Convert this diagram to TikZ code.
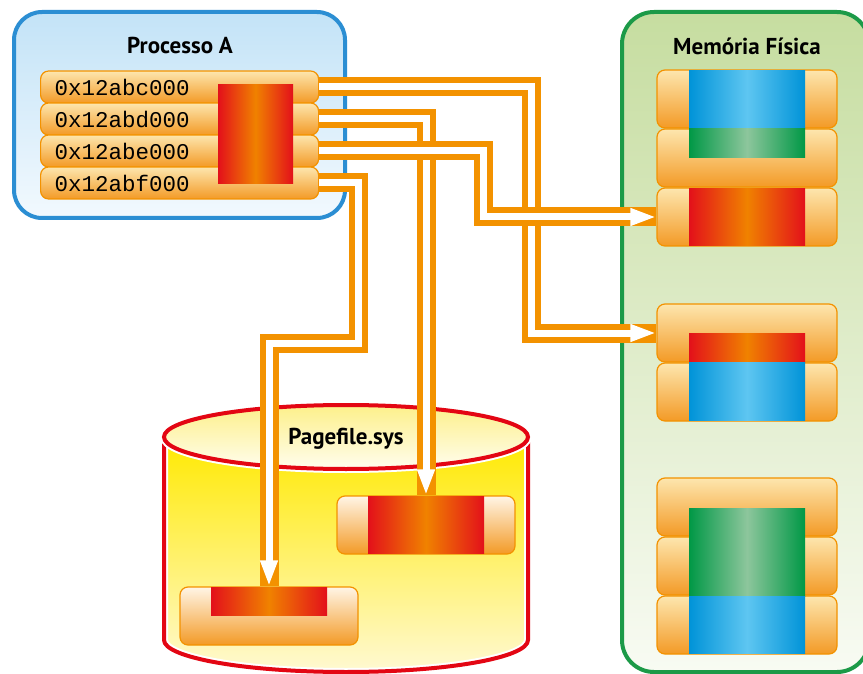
\documentclass[tikz,border=0pt]{standalone}
\usepackage{fontspec}
\setmainfont{PT Sans}
\setmonofont{Liberation Mono}
\usetikzlibrary{arrows.meta}

\definecolor{linkorange}{HTML}{F39200}
\definecolor{barlight}{HTML}{FDE6AE}
\definecolor{bardark}{HTML}{F39A26}
\definecolor{diskbarlight}{HTML}{FFF5E6}
\definecolor{pagered}{HTML}{E3101A}
\definecolor{pagemid}{HTML}{F08200}
\definecolor{bluedeep}{HTML}{0093D8}
\definecolor{bluelight}{HTML}{5EC6F1}
\definecolor{greendeep}{HTML}{009846}
\definecolor{greenlight}{HTML}{8DC69C}
\definecolor{procborder}{HTML}{2B8ED3}
\definecolor{proctop}{HTML}{C3E3F7}
\definecolor{procbot}{HTML}{F2F9FE}
\definecolor{memborder}{HTML}{1C9A48}
\definecolor{memtop}{HTML}{C6DDA0}
\definecolor{membot}{HTML}{F8FBF3}
\definecolor{diskred}{HTML}{E30613}
\definecolor{diskyellow}{HTML}{FFE900}
\definecolor{diskpale}{HTML}{FFF9D2}
\definecolor{lidtop}{HTML}{FDF08A}
\definecolor{lidbot}{HTML}{FFFDEE}

\tikzset{
  title/.style={font=\fontsize{23}{25}\selectfont\bfseries, text=black},
  pagebar/.style={draw=linkorange, line width=1.2pt, rounded corners=8pt,
    top color=barlight, bottom color=bardark, minimum width=180pt,
    minimum height=58pt, inner sep=0pt},
  diskbar/.style={pagebar, top color=diskbarlight, minimum width=178pt},
  addrrow/.style={draw=linkorange, line width=1.2pt, rounded corners=8pt,
    top color=barlight, bottom color=bardark, minimum height=32pt,
    text width=250pt, inner xsep=14pt, inner ysep=0pt, align=left,
    font=\ttfamily\fontsize{22.5}{24}\selectfont},
  redpage/.style={left color=pagered, right color=pagered, middle color=pagemid},
  bluepage/.style={left color=bluedeep, right color=bluedeep, middle color=bluelight},
  greenpage/.style={left color=greendeep, right color=greendeep, middle color=greenlight},
  band/.style={draw=linkorange, line width=19pt, line join=miter},
  core/.style={draw=white, line width=7pt, line join=miter},
  coretip/.style={core, -{Triangle[length=26pt,width=16pt]}},
}

\begin{document}
\begin{tikzpicture}[x=1pt, y=-1pt]
  \useasboundingbox (0,0) rectangle (863,674);
  \clip (0,0) rectangle (863,674);
  \fill[white] (0,0) rectangle (863,674);

  % --- process address space ---
  \draw[procborder, line width=4pt, rounded corners=28pt, top color=proctop, bottom color=procbot]
    (14,12) rectangle (345,218);
  \node[title] (proctitle) at (180,45) {Processo A};
  \node[addrrow, anchor=west] (r1) at (40,87)  {0x12abc000};
  \node[addrrow, anchor=west] (r2) at (40,119) {0x12abd000};
  \node[addrrow, anchor=west] (r3) at (40,151) {0x12abe000};
  \node[addrrow, anchor=west] (r4) at (40,183) {0x12abf000};
  \fill[redpage] (218,85) rectangle (293,184);

  % --- physical memory ---
  \draw[memborder, line width=4pt, rounded corners=32pt, top color=memtop, bottom color=membot]
    (622,12) rectangle (869,672);
  \node[title] (memtitle) at (747,46) {Memória Física};

  \node[pagebar] (mA1) at (747,99)  {};
  \node[pagebar] (mA2) at (747,158) {};
  \node[pagebar] (mA3) at (747,217) {};
  \fill[bluepage]  (689,71)    rectangle (805,129);
  \fill[greenpage] (689,129)   rectangle (805,158);
  \fill[redpage]   (689,188.5) rectangle (805,245.5);

  \node[pagebar] (mB1) at (747,333) {};
  \node[pagebar] (mB2) at (747,392) {};
  \fill[redpage]  (689,333)   rectangle (805,362.5);
  \fill[bluepage] (689,362.5) rectangle (805,420.5);

  \node[pagebar] (mC1) at (747,507) {};
  \node[pagebar] (mC2) at (747,566) {};
  \node[pagebar] (mC3) at (747,625) {};
  \fill[greenpage] (689,508) rectangle (805,596);
  \fill[bluepage]  (689,596) rectangle (805,653.5);

  % --- page file cylinder ---
  \fill[top color=diskyellow, bottom color=diskpale]
    (164,437) -- (164,640) arc[start angle=180, end angle=0, x radius=182, y radius=32] -- (528,437) -- cycle;
  \draw[white, line width=8pt]
    (164,437) -- (164,640) arc[start angle=180, end angle=0, x radius=182, y radius=32] -- (528,437);
  \draw[diskred, line width=4pt]
    (164,437) -- (164,640) arc[start angle=180, end angle=0, x radius=182, y radius=32] -- (528,437);
  \draw[white, line width=8pt] (346,437) ellipse [x radius=182, y radius=32];
  \draw[diskred, line width=4pt, top color=lidtop, bottom color=lidbot]
    (346,437) ellipse [x radius=182, y radius=32];
  \node[title] (disktitle) at (346,439) {Pagefile.sys};

  \node[diskbar] (pU) at (426,525) {};
  \fill[redpage] (368,496.5) rectangle (484,553.5);
  \node[diskbar] (pL) at (269,616) {};
  \fill[redpage] (211,587.5) rectangle (327,615);

  % --- page table mappings ---
  \draw[band]    (r1.east) -- ++(212,0) |- (mB1.west);
  \draw[coretip] (r1.east) -- ++(212,0) |- (mB1.west);

  \draw[band]    (r2.east) -| (pU.north);
  \draw[coretip] (r2.east) -| (pU.north);

  \draw[band]    (r4.east) -- ++(39,0) -- ++(0,160) -| (pL.north);
  \draw[coretip] (r4.east) -- ++(39,0) -- ++(0,160) -| (pL.north);

  \draw[band]    (r3.east) -- ++(164,0) |- (mA3.west);
  \draw[coretip] (r3.east) -- ++(164,0) |- (mA3.west);
\end{tikzpicture}
\end{document}
